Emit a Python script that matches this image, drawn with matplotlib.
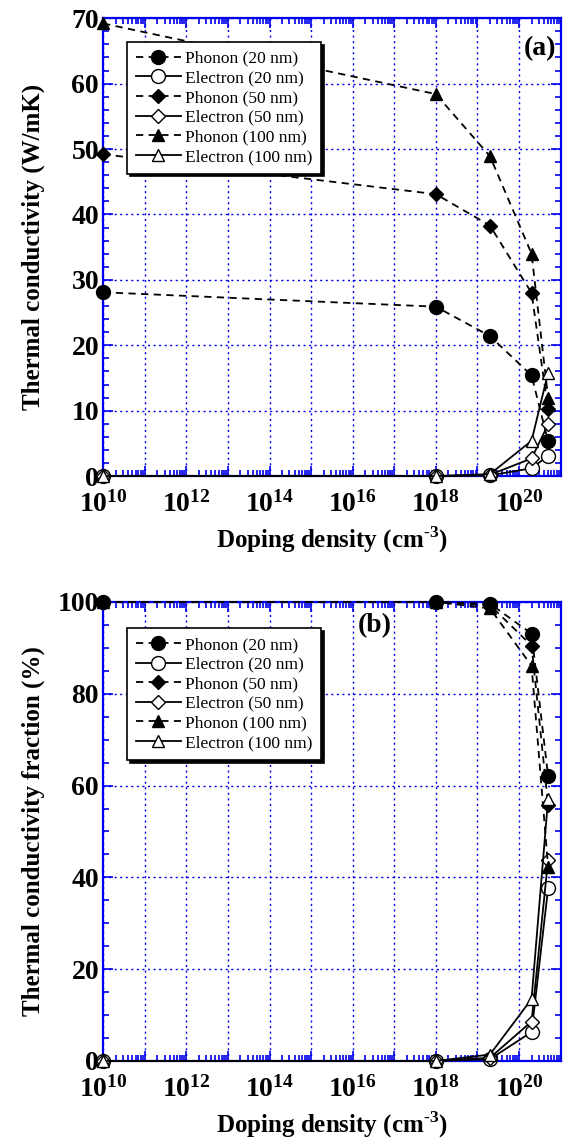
import matplotlib.pyplot as plt
import matplotlib.ticker as ticker
import numpy as np

plt.rcParams['font.family'] = ['Liberation Serif', 'DejaVu Serif']
plt.rcParams['mathtext.fontset'] = 'custom'
plt.rcParams['mathtext.rm'] = 'Liberation Serif:bold'
plt.rcParams['mathtext.bf'] = 'Liberation Serif:bold'

doping = [1e10, 1e18, 2e19, 2e20, 5e20]

# panel (a): thermal conductivity, W/mK
k_ph_20 = [28.1, 25.9, 21.4, 15.4, 5.3]
k_el_20 = [0.0, 0.0, 0.1, 1.2, 3.1]
k_ph_50 = [49.2, 43.1, 38.3, 28.0, 10.2]
k_el_50 = [0.0, 0.0, 0.2, 2.7, 7.9]
k_ph_100 = [69.2, 58.4, 48.9, 34.0, 12.0]
k_el_100 = [0.0, 0.0, 0.3, 5.4, 15.8]

# panel (b): fraction, %
f_ph_20 = [100.0, 100.0, 99.6, 93.1, 62.0]
f_el_20 = [0.0, 0.0, 0.4, 6.3, 37.6]
f_ph_50 = [100.0, 100.0, 99.3, 90.5, 55.7]
f_el_50 = [0.0, 0.0, 0.7, 8.6, 43.8]
f_ph_100 = [100.0, 100.0, 98.6, 86.1, 42.3]
f_el_100 = [0.0, 0.0, 1.4, 13.5, 57.1]

labels = ['Phonon (20 nm)', 'Electron (20 nm)', 'Phonon (50 nm)',
          'Electron (50 nm)', 'Phonon (100 nm)', 'Electron (100 nm)']
markers = ['o', 'o', 'D', 'D', '^', '^']
msizes = [10, 10, 7, 7, 9, 9]
BLUE = '#0000ee'


def decade_fmt(x, pos):
    e = int(round(np.log10(x)))
    if e % 2:
        return ''
    return r'$\mathbf{10^{%d}}$' % e


def style_axes(ax, ylim, ymajor, yminor):
    ax.set_xscale('log')
    ax.set_xlim(1e10, 1e21)
    ax.set_ylim(*ylim)
    ax.xaxis.set_major_locator(ticker.LogLocator(base=10, numticks=30))
    ax.xaxis.set_major_formatter(ticker.FuncFormatter(decade_fmt))
    ax.xaxis.set_minor_locator(ticker.LogLocator(base=10, subs=np.arange(2, 10), numticks=30))
    ax.xaxis.set_minor_formatter(ticker.NullFormatter())
    ax.yaxis.set_major_locator(ticker.MultipleLocator(ymajor))
    ax.yaxis.set_minor_locator(ticker.MultipleLocator(yminor))
    ax.tick_params(which='both', direction='in', top=True, right=True,
                   color=BLUE, labelcolor='black', labelsize=20, width=1.2)
    ax.tick_params(which='major', length=7)
    ax.tick_params(which='minor', length=4)
    ax.tick_params(axis='x', pad=11)
    ax.tick_params(axis='y', pad=3)
    for lab in ax.get_yticklabels():
        lab.set_fontweight('bold')
    for sp in ax.spines.values():
        sp.set_color(BLUE)
        sp.set_linewidth(1.6)
    ax.grid(True, which='major', color=BLUE, linestyle=(0, (1.5, 2.5)), linewidth=1.0)
    ax.set_axisbelow(True)
    ax.set_xlabel('Doping density (cm$^{\u20103}$)', fontsize=18, fontweight='bold', labelpad=5)


def draw(ax, series, anchor_y):
    for ys, lab, m, ms in zip(series, labels, markers, msizes):
        phonon = lab.startswith('Phonon')
        ax.plot(doping, ys, linestyle=(0, (4, 3)) if phonon else '-',
                color='black', linewidth=1.3, marker=m, markersize=ms,
                markerfacecolor='black' if phonon else 'white',
                markeredgecolor='black', markeredgewidth=1.0,
                label=lab, clip_on=False, zorder=3)
    leg = ax.legend(loc='upper left', bbox_to_anchor=(0.052, anchor_y), fancybox=False,
                    shadow={'color': 'black', 'alpha': 1.0}, edgecolor='black',
                    framealpha=1, fontsize=12.5, handlelength=2.6, borderpad=0.5,
                    labelspacing=0.2, handletextpad=0.25, borderaxespad=0.0)
    leg.get_frame().set_linewidth(1.2)


fig = plt.figure(figsize=(5.64, 11.39), dpi=100)
ax1 = fig.add_axes([0.183, 0.582, 0.811, 0.402])
ax2 = fig.add_axes([0.183, 0.0685, 0.811, 0.403])

draw(ax1, [k_ph_20, k_el_20, k_ph_50, k_el_50, k_ph_100, k_el_100], 0.948)
style_axes(ax1, (0, 70), 10, 2)
ax1.set_ylabel('Thermal conductivity (W/mK)', fontsize=18, fontweight='bold')
ax1.yaxis.set_label_coords(-0.127, 0.5)
ax1.text(0.99, 0.96, '(a)', transform=ax1.transAxes, ha='right', va='top',
         fontsize=20, fontweight='bold')

draw(ax2, [f_ph_20, f_el_20, f_ph_50, f_el_50, f_ph_100, f_el_100], 0.943)
style_axes(ax2, (0, 100), 20, 5)
ax2.set_ylabel('Thermal conductivity fraction (%)', fontsize=18, fontweight='bold')
ax2.yaxis.set_label_coords(-0.127, 0.5)
ax2.text(0.556, 0.975, '(b)', transform=ax2.transAxes, ha='left', va='top',
         fontsize=20, fontweight='bold')

fig.savefig('out.png', dpi=100)
